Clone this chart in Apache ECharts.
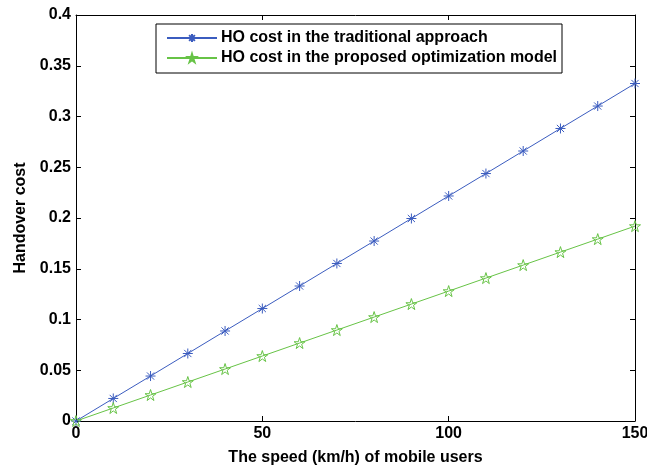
<!DOCTYPE html>
<html>
<head>
<meta charset="utf-8">
<script src="https://cdn.jsdelivr.net/npm/echarts@6/dist/echarts.min.js"></script>
<style>
html,body{margin:0;padding:0;background:#fff;}
#chart{width:647px;height:471px;}
</style>
</head>
<body>
<div id="chart"></div>
<script>
var speeds = [0, 10, 20, 30, 40, 50, 60, 70, 80, 90, 100, 110, 120, 130, 140, 150];
var traditionalCost = [0, 0.0222, 0.0443, 0.0665, 0.0887, 0.1108, 0.133, 0.1552, 0.1773, 0.1995, 0.2217, 0.2438, 0.266, 0.2882, 0.3103, 0.3325];
var proposedCost = [0, 0.0128, 0.0256, 0.0384, 0.0512, 0.064, 0.0768, 0.0896, 0.1024, 0.1152, 0.128, 0.1408, 0.1536, 0.1664, 0.1792, 0.192];
var seriesNames = ['HO cost in the traditional approach', 'HO cost in the proposed optimization model'];

var blue = '#3b5cbf';
var green = '#67c346';
var font = 'Liberation Sans, Arial, sans-serif';

var asterisk = 'path://M0,-1L0,1M-1,0L1,0M-0.72,-0.72L0.72,0.72M-0.72,0.72L0.72,-0.72';
var star = 'path://M0,-1L0.2245,-0.309L0.9511,-0.309L0.3633,0.118L0.5878,0.809L0,0.382L-0.5878,0.809L-0.3633,0.118L-0.9511,-0.309L-0.2245,-0.309Z';

function pairs(xs, ys) { return xs.map(function (x, i) { return [x, ys[i]]; }); }

var chart = echarts.init(document.getElementById('chart'));
var tickCommon = { inside: true, length: 5, lineStyle: { color: '#000', width: 1 } };
var labelFont = { fontFamily: font, fontWeight: 'bold', fontSize: 16, color: '#000' };
chart.setOption({
  animation: false,
  backgroundColor: '#fff',
  grid: { left: 76, right: 12, top: 15, bottom: 50, containLabel: false, outerBoundsMode: 'none' },
  legend: {
    orient: 'vertical',
    left: 156, top: 24,
    padding: [6, 5, 7, 10],
    itemGap: 4,
    itemWidth: 50, itemHeight: 10,
    borderColor: '#000', borderWidth: 1,
    backgroundColor: '#fff',
    textStyle: { fontFamily: font, fontWeight: 'bold', fontSize: 16, color: '#000', padding: [0, 0, 0, -1] },
    data: seriesNames
  },
  xAxis: [{
    type: 'value', min: 0, max: 150, interval: 50,
    name: 'The speed (km/h) of mobile users', nameLocation: 'middle', nameGap: 29,
    nameTextStyle: labelFont,
    axisLine: { show: true, lineStyle: { color: '#000', width: 1 } },
    axisTick: tickCommon,
    axisLabel: Object.assign({ margin: 5 }, labelFont),
    splitLine: { show: false }
  }, {
    type: 'value', min: 0, max: 150, interval: 50, position: 'top',
    axisLine: { show: true, onZero: false, lineStyle: { color: '#000', width: 1 } },
    axisTick: tickCommon, axisLabel: { show: false }, splitLine: { show: false }
  }],
  yAxis: [{
    type: 'value', min: 0, max: 0.4, interval: 0.05,
    name: 'Handover cost', nameLocation: 'middle', nameGap: 47,
    nameTextStyle: labelFont,
    axisLine: { show: true, lineStyle: { color: '#000', width: 1 } },
    axisTick: tickCommon,
    axisLabel: Object.assign({ margin: 5 }, labelFont),
    splitLine: { show: false }
  }, {
    type: 'value', min: 0, max: 0.4, interval: 0.05, position: 'right',
    axisLine: { show: true, onZero: false, lineStyle: { color: '#000', width: 1 } },
    axisTick: tickCommon, axisLabel: { show: false }, splitLine: { show: false }
  }],
  series: [{
    name: seriesNames[0], type: 'line', data: pairs(speeds, traditionalCost),
    symbol: asterisk, symbolSize: 10, showAllSymbol: true,
    lineStyle: { color: blue, width: 1 },
    itemStyle: { color: 'transparent', borderColor: blue, borderWidth: 1 },
    emphasis: { disabled: true }, z: 3
  }, {
    name: seriesNames[1], type: 'line', data: pairs(speeds, proposedCost),
    symbol: star, symbolSize: 11, showAllSymbol: true,
    lineStyle: { color: green, width: 1 },
    itemStyle: { color: 'transparent', borderColor: green, borderWidth: 1 },
    emphasis: { disabled: true }, z: 3
  }]
});
</script>
</body>
</html>
